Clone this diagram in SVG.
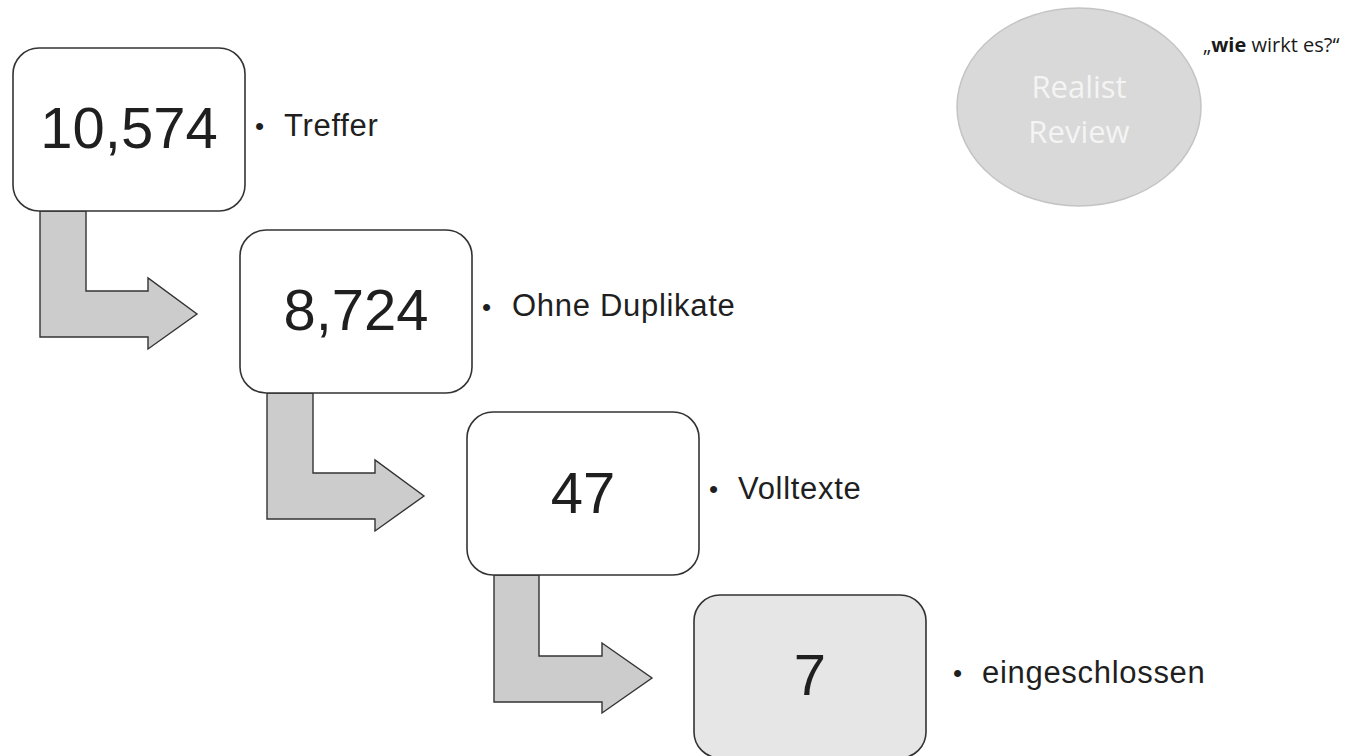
<svg xmlns="http://www.w3.org/2000/svg" width="1361" height="756" viewBox="0 0 1361 756">
<style>
.box{fill:#ffffff;stroke:#333333;stroke-width:1.6}
.box.last{fill:#e6e6e6}
.arrow{fill:#cccccc;stroke:#333333;stroke-width:1.4}
.num{font-family:"Liberation Sans",Arial,sans-serif;font-size:58px;fill:#1f1f1f;text-anchor:middle}
.lbl{font-family:"Liberation Sans",Arial,sans-serif;font-size:31px;fill:#1f1f1f;letter-spacing:0.7px}
.dot{font-family:"Liberation Sans",Arial,sans-serif;font-size:26px;fill:#1f1f1f}
</style>
<rect width="1361" height="756" fill="#ffffff"/>
<g id="connectors">
<path class="arrow" d="M40,211 H86 V291 H148 V278 L197,314 L148,349 V337 H40 Z"/>
<path class="arrow" d="M267,393 H313 V473 H375 V460 L424,496 L375,531 V519 H267 Z"/>
<path class="arrow" d="M494,575 H539 V656 H602 V643 L652,678 L602,713 V702 H494 Z"/>
</g>
<g id="node1">
<rect class="box" x="13" y="48" width="232" height="163" rx="26"/>
<text class="num" x="129" y="148">10,574</text>
<text class="dot" x="255" y="135">•</text>
<text class="lbl" x="284" y="136">Treffer</text>
</g>
<g id="node2">
<rect class="box" x="240" y="230" width="232" height="163" rx="26"/>
<text class="num" x="356" y="330">8,724</text>
<text class="dot" x="482" y="316">•</text>
<text class="lbl" x="512" y="316">Ohne Duplikate</text>
</g>
<g id="node3">
<rect class="box" x="467" y="412" width="232" height="163" rx="26"/>
<text class="num" x="583" y="513">47</text>
<text class="dot" x="709" y="498">•</text>
<text class="lbl" x="738" y="499">Volltexte</text>
</g>
<g id="node4">
<rect class="box last" x="694" y="595" width="232" height="163" rx="26"/>
<text class="num" x="810" y="695">7</text>
<text class="dot" x="953" y="682">•</text>
<text class="lbl" x="982" y="683">eingeschlossen</text>
</g>
<g id="realist">
<ellipse cx="1079" cy="107" rx="122" ry="99" fill="#d9d9d9" stroke="#c4c4c4" stroke-width="1.5"/>
<text x="1079" y="98" font-family="'Open Sans',sans-serif" font-size="31" fill="#f4f4f4" text-anchor="middle">Realist</text>
<text x="1079" y="143" font-family="'Open Sans',sans-serif" font-size="31" fill="#f4f4f4" text-anchor="middle">Review</text>
</g>
<g id="question">
<text x="1203" y="52" font-family="'Open Sans',sans-serif" font-size="20" fill="#1a1a1a">„<tspan font-weight="bold">wie</tspan> wirkt es?“</text>
</g>
</svg>
